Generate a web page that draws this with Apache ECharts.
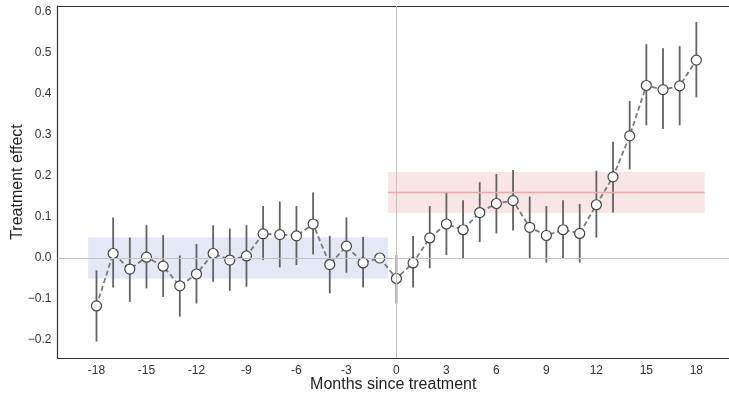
<!DOCTYPE html>
<html>
<head>
<meta charset="utf-8">
<script src="https://cdn.jsdelivr.net/npm/echarts@6/dist/echarts.min.js"></script>
<style>
html,body{margin:0;padding:0;background:#fff;}
#chart{width:729px;height:394px;}
</style>
</head>
<body>
<div id="chart"></div>
<script>
const months = [-18,-17,-16,-15,-14,-13,-12,-11,-10,-9,-8,-7,-6,-5,-4,-3,-2,-1,0,1,2,3,4,5,6,7,8,9,10,11,12,13,14,15,16,17,18];
const effect = [-0.117,0.011,-0.027,0.002,-0.020,-0.068,-0.039,0.011,-0.005,0.005,0.059,0.057,0.054,0.083,-0.016,0.029,-0.012,0.000,-0.050,-0.012,0.049,0.083,0.069,0.111,0.133,0.140,0.075,0.055,0.069,0.060,0.130,0.198,0.298,0.421,0.411,0.420,0.483];
const lower = [-0.204,-0.072,-0.107,-0.074,-0.095,-0.143,-0.111,-0.058,-0.080,-0.070,-0.005,-0.023,-0.017,0.009,-0.086,-0.036,-0.072,null,-0.111,-0.072,-0.025,0.007,0.000,0.039,0.060,0.067,0.000,-0.011,-0.001,-0.011,0.050,0.111,0.216,0.324,0.315,0.324,0.392];
const upper = [-0.030,0.099,0.050,0.080,0.056,0.006,0.034,0.080,0.072,0.080,0.127,0.138,0.127,0.160,0.054,0.099,0.051,null,0.007,0.054,0.127,0.160,0.141,0.185,0.205,0.215,0.150,0.127,0.141,0.132,0.213,0.284,0.383,0.522,0.512,0.517,0.576];
const xTicks = [-18,-15,-12,-9,-6,-3,0,3,6,9,12,15,18];
const yTicks = [-0.2,-0.1,0.0,0.1,0.2,0.3,0.4,0.5,0.6];
const preBandX = [-18.5, -0.5];
const preBandY = [-0.05, 0.05];
const postBandX = [-0.5, 18.5];
const postBandY = [0.11, 0.21];
const postMean = [0.16];

const chart = echarts.init(document.getElementById('chart'));
const font = 'Liberation Sans, Arial, sans-serif';

const errData = months.map((m,i)=>[m, lower[i], upper[i]]).filter(d=>d[1]!==null);

chart.setOption({
  animation: false,
  grid: {left: 57.5, right: 0, top: 6, bottom: 36, outerBoundsMode: 'none', containLabel: false},
  xAxis: [{
    type: 'value', min: -20.34, max: 19.96, position: 'bottom',
    name: 'Months since treatment', nameLocation: 'middle', nameGap: 19, nameMoveOverlap: false,
    nameTextStyle: {fontFamily: font, fontSize: 16, color: '#222'},
    axisLine: {show: true, onZero: false, lineStyle: {color: '#333', width: 1.2}},
    axisTick: {show: false},
    splitLine: {show: false},
    axisLabel: {customValues: xTicks, fontFamily: font, fontSize: 12, color: '#333', margin: 7,
      formatter: v => String(v)}
  },{
    type: 'value', min: -20.34, max: 19.96, position: 'top',
    axisLine: {show: true, onZero: false, lineStyle: {color: '#333', width: 1.2}},
    axisTick: {show: false}, axisLabel: {show: false}, splitLine: {show: false}
  }],
  yAxis: {
    type: 'value', min: -0.244, max: 0.615,
    name: 'Treatment effect', nameLocation: 'middle', nameGap: 32, nameRotate: 90, nameMoveOverlap: false,
    nameTextStyle: {fontFamily: font, fontSize: 16, color: '#222'},
    axisLine: {show: true, onZero: false, lineStyle: {color: '#333', width: 1.2}},
    axisTick: {show: false},
    splitLine: {show: false},
    axisLabel: {customValues: yTicks, fontFamily: font, fontSize: 12, color: '#333', margin: 6,
      formatter: v => (v < 0 ? '\u2212' : '') + Math.abs(v).toFixed(1)}
  },
  series: [
    {
      type: 'line', data: [], silent: true, z: 1,
      markArea: {
        silent: true,
        data: [
          [{coord: [preBandX[0], preBandY[0]], itemStyle: {color: '#e4e8f4'}}, {coord: [preBandX[1], preBandY[1]]}],
          [{coord: [postBandX[0], postBandY[0]], itemStyle: {color: '#f8e5e6'}}, {coord: [postBandX[1], postBandY[1]]}]
        ]
      },
      markLine: {
        silent: true, symbol: 'none', label: {show: false},
        data: [
          {xAxis: 0, lineStyle: {color: '#c4c4c4', width: 1, type: 'solid'}},
          {yAxis: 0, lineStyle: {color: '#c4c4c4', width: 1, type: 'solid'}},
          [{coord: [postBandX[0], postMean[0]], lineStyle: {color: '#f2a7a8', width: 1.3, type: 'solid'}}, {coord: [postBandX[1], postMean[0]]}]
        ]
      }
    },
    {
      type: 'custom', z: 3, silent: true,
      data: errData,
      encode: {x: 0, y: [1, 2]},
      renderItem: (params, api) => {
        const p1 = api.coord([api.value(0), api.value(1)]);
        const p2 = api.coord([api.value(0), api.value(2)]);
        return {type: 'line', shape: {x1: p1[0], y1: p1[1], x2: p2[0], y2: p2[1]},
          style: {stroke: '#626262', lineWidth: 1.8}};
      }
    },
    {
      type: 'line', z: 4, silent: true,
      data: months.map((m,i)=>[m, effect[i]]),
      lineStyle: {color: '#7a7a7a', width: 1.8, type: [5, 3]},
      symbol: 'circle', symbolSize: 10,
      itemStyle: {color: '#ffffff', borderColor: '#444', borderWidth: 1.2}
    }
  ]
});
</script>
</body>
</html>
